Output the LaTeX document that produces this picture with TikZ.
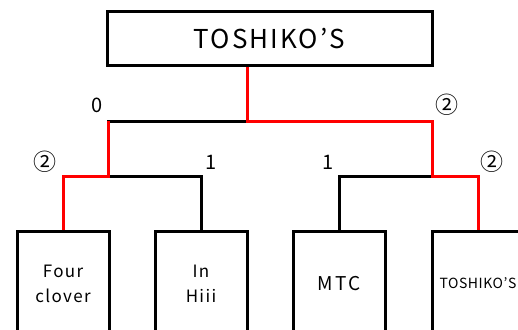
\documentclass[tikz,border=0pt]{standalone}
\usepackage{fontspec}
\setmainfont{Noto Sans CJK JP}
\newcommand{\spaced}[2]{\fontsize{#1}{25}\selectfont\addfontfeature{LetterSpace=#2}}
\begin{document}
\begin{tikzpicture}[x=1pt,y=-1pt,
    team/.style={draw,line width=3pt,minimum width=92pt,minimum height=104pt,anchor=north,
      align=center,inner sep=0pt,font=\spaced{17}{8}},
    bracket/.style={line width=3pt,line cap=rect},
    win/.style={line width=3pt,red},
    score/.style={inner sep=0pt,font=\fontsize{20}{20}\selectfont},
    circled/.style={inner sep=0pt,font=\fontsize{23}{23}\selectfont}]
    \clip (0,0) rectangle (518,329);
    \node[draw,line width=3pt,minimum width=325pt,minimum height=53pt,font=\spaced{26}{8}] (final) at (269.5,38.5) {TOSHIKO’S};
    % teams
    \node[team] (four) at (63,230) {Four\\clover};
    \node[team] (inhiii) at (201,230) {In\\Hiii};
    \node[team,font=\spaced{19}{12}] (mtc) at (339,230) {MTC};
    \node[team,font=\spaced{14}{4}] (toshiko) at (478,230) {TOSHIKO'S};
    % junctions
    \coordinate (r0) at (247,121);
    \coordinate (sl) at (108,121);
    \coordinate (sr) at (432,121);
    \coordinate (al) at (108,176);
    \coordinate (ar) at (432,176);
    \draw[bracket] (sl) -- (r0);
    \draw[bracket] (al) -| (inhiii.north);
    \draw[bracket] (ar) -| (mtc.north);
    \draw[win] (final.south -| r0) -- (r0) -- (sr) -- (ar) -| (toshiko.north);
    \draw[win] (sl) -- (al) -| (four.north);
    % scores
    \node[score] (s0) at (97,105) {0};
    \node[circled] (s1) at (447,105) {②};
    \node[circled] (s2) at (45,162) {②};
    \node[score] (s3) at (211,162) {1};
    \node[score] (s4) at (328,162) {1};
    \node[circled] (s5) at (492,162) {②};
\end{tikzpicture}
\end{document}
